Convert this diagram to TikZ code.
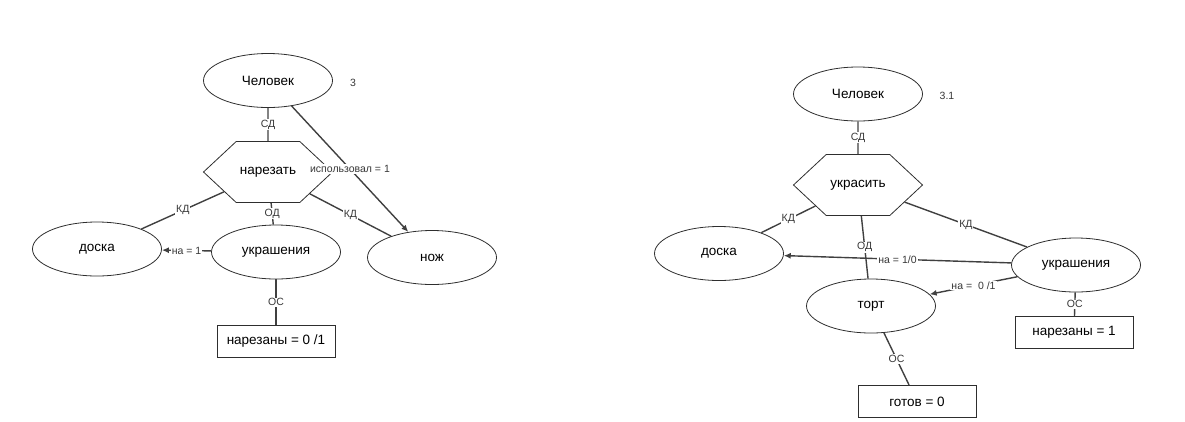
\documentclass[tikz,border=0pt]{standalone}
\usepackage{fontspec}
\setmainfont{Liberation Sans}
\usetikzlibrary{shapes.geometric,shapes.symbols,arrows.meta}
\definecolor{linec}{HTML}{404040}
\definecolor{edgec}{HTML}{2E2E2E}
\definecolor{lblc}{HTML}{383838}
\tikzset{
  ell/.style={ellipse, draw=edgec, line width=0.8pt, minimum width=129pt, minimum height=54pt, inner sep=0pt, font=\fontsize{13.5}{15}\selectfont},
  hexa/.style={signal, signal to=west and east, signal pointer angle=86, draw=edgec, line width=0.8pt, minimum width=129pt, minimum height=61pt, inner sep=0pt, font=\fontsize{13.5}{15}\selectfont},
  statebox/.style={rectangle, draw=edgec, line width=0.8pt, minimum width=118pt, minimum height=32pt, inner sep=0pt, font=\fontsize{13.5}{15}\selectfont},
  conn/.style={draw=linec, line width=1.4pt},
  arr/.style={conn, -{Latex[length=7pt,width=6pt]}},
  lbl/.style={font=\fontsize{10.5}{12}\selectfont, text=lblc, fill=white, inner sep=1pt, pos=0.5},
  numlbl/.style={font=\fontsize{10.5}{12}\selectfont, text=lblc, inner sep=0pt}
}
\begin{document}
\begin{tikzpicture}[x=1pt,y=-1pt]
\useasboundingbox (0,0) rectangle (1185,421);
% ---------- left diagram ----------
\node[ell] (chel1) at (268,80.5) {Человек};
\node[numlbl] (n3) at (353,83) {3};
\node[hexa] (cut) at (268,172) {нарезать};
\node[ell] (doska1) at (97,249) {доска};
\node[ell] (ukr1) at (276,252) {украшения};
\node[ell] (nozh) at (432,257.5) {нож};
\node[statebox] (st1) at (276,341.5) {нарезаны = 0 /1};
\draw[conn] (chel1) -- node[lbl] {СД} (cut);
\draw[conn] (cut) -- node[lbl] {КД} (doska1);
\draw[conn] (cut) -- node[lbl] {ОД} (ukr1);
\draw[conn] (cut) -- node[lbl] {КД} (nozh);
\draw[arr] (chel1) -- node[lbl] {использовал = 1} (nozh);
\draw[arr] (ukr1) -- node[lbl] {на = 1} (doska1);
\draw[conn] (ukr1) -- node[lbl] {ОС} (st1);
% ---------- right diagram ----------
\node[ell] (chel2) at (858,94) {Человек};
\node[numlbl] (n31) at (947,96) {3.1};
\node[hexa] (dec) at (858,185) {украсить};
\node[ell] (doska2) at (719,253.5) {доска};
\node[ell] (ukr2) at (1076,265) {украшения};
\node[ell] (tort) at (871,306) {торт};
\node[statebox] (st2) at (1074,332.5) {нарезаны = 1};
\node[statebox] (st3) at (917,401.5) {готов = 0};
\draw[conn] (chel2) -- node[lbl] {СД} (dec);
\draw[conn] (dec) -- node[lbl] {КД} (doska2);
\draw[conn] (dec) -- node[lbl] {КД} (ukr2);
\draw[conn] (dec) -- node[lbl] {ОД} (tort);
\draw[arr] (ukr2) -- node[lbl] {на = 1/0} (doska2);
\draw[arr] (ukr2) -- node[lbl] {на =~ 0 /1} (tort);
\draw[conn] (ukr2) -- node[lbl] {ОС} (st2);
\draw[conn] (tort) -- node[lbl] {ОС} (st3);
\end{tikzpicture}
\end{document}
